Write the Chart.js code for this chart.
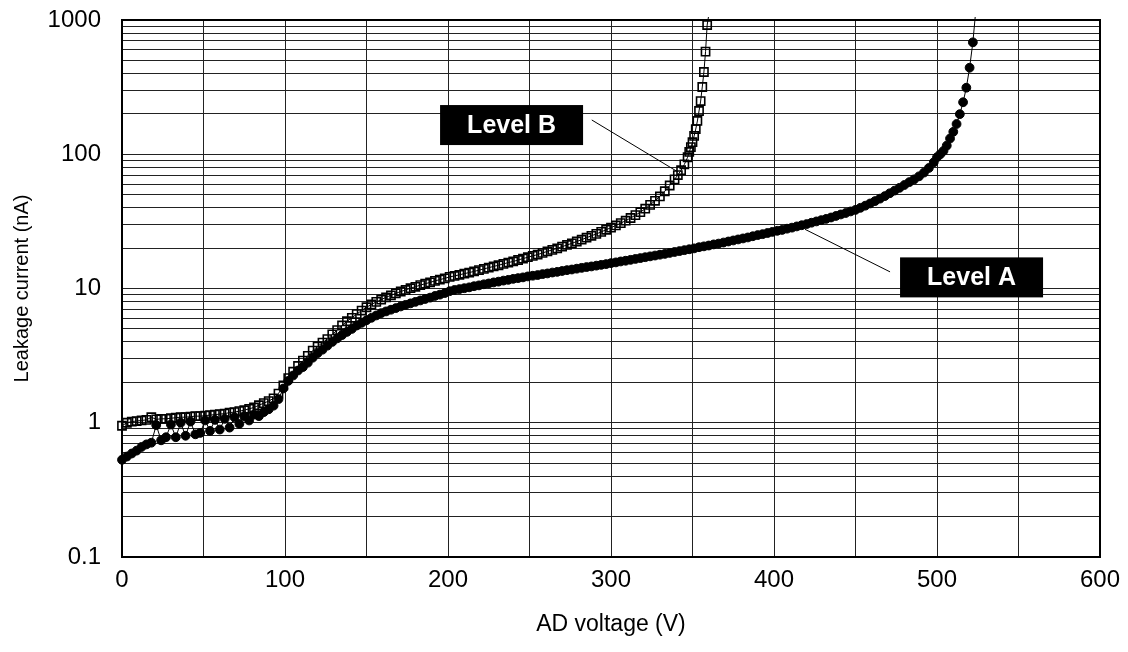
<!DOCTYPE html>
<html>
<head>
<meta charset="utf-8">
<script src="https://cdn.jsdelivr.net/npm/chart.js@4"></script>
<style>
  html, body { margin: 0; padding: 0; background: #fff; }
  #chart { display: block; }
</style>
</head>
<body>
<canvas id="chart" width="1128" height="652"></canvas>
<script>
// [voltage V, current nA]
const levelA = [
  [0,0.53],[3,0.56],[6,0.59],[9,0.62],[12,0.66],[15,0.69],[18,0.71],[21,0.96],[24,0.74],[27,0.78],
  [30,0.97],[33,0.78],[36,1.0],[39,0.8],[42,1.02],[45,0.82],[48,0.84],[51,1.04],[54,0.87],[57,1.05],
  [60,0.89],[63,1.07],[66,0.92],[69,1.1],[72,0.98],[75,1.12],[78,1.04],[81,1.15],[84,1.12],[87,1.2],
  [90,1.26],[93,1.34],[96,1.5],[99,1.8],[102,2.05],[105,2.25],[108,2.45],[111,2.6],[114,2.8],[117,3.05],
  [120,3.3],[123,3.5],[126,3.75],[129,4.0],[132,4.25],[135,4.5],[138,4.75],[141,5.0],[144,5.3],[147,5.55],
  [150,5.8],[153,6.05],[156,6.3],[159,6.55],[162,6.75],[165,6.95],[168,7.15],[171,7.35],[174,7.55],[177,7.75],
  [180,7.95],[183,8.15],[186,8.35],[189,8.55],[192,8.8],[195,9.0],[198,9.25],[201,9.55],[204,9.75],[207,9.9],
  [210,10.05],[213,10.2],[216,10.4],[219,10.55],[222,10.75],[225,10.9],[228,11.1],[231,11.25],[234,11.45],[237,11.6],
  [240,11.8],[243,11.95],[246,12.1],[249,12.3],[252,12.45],[255,12.6],[258,12.8],[261,12.95],[264,13.15],[267,13.3],
  [270,13.5],[273,13.7],[276,13.85],[279,14.05],[282,14.25],[285,14.45],[288,14.6],[291,14.8],[294,15.0],[297,15.2],
  [300,15.45],[303,15.65],[306,15.9],[309,16.1],[312,16.35],[315,16.6],[318,16.85],[321,17.1],[324,17.35],[327,17.6],
  [330,17.85],[333,18.1],[336,18.4],[339,18.7],[342,19.0],[345,19.3],[348,19.6],[351,19.9],[354,20.3],[357,20.6],
  [360,20.9],[363,21.3],[366,21.6],[369,22.0],[372,22.4],[375,22.8],[378,23.2],[381,23.6],[384,24.0],[387,24.5],
  [390,25.0],[393,25.4],[396,25.9],[399,26.4],[402,26.9],[405,27.3],[408,27.9],[411,28.4],[414,29.0],[417,29.6],
  [420,30.2],[423,30.9],[426,31.6],[429,32.3],[432,33.0],[435,33.8],[438,34.7],[441,35.6],[444,36.5],[447,37.5],
  [450,38.5],[453,39.9],[456,41.4],[459,43.0],[462,44.8],[465,46.7],[468,48.8],[471,51.2],[474,53.6],[477,56.2],
  [480,59],[483,62],[486,65],[489,68.5],[492,73],[495,79],[498,87],[500,95],[502,100],[504,106],
  [506,116],[508,131],[510,147],[512,168],[514,199],[516,244],[518,313],[520,441],[522,682],[524,1250]
];

const levelB = [
  [0,0.95],[3,1.0],[6,1.02],[9,1.03],[12,1.04],[15,1.05],[18,1.1],[21,1.06],[24,1.07],[27,1.07],
  [30,1.08],[33,1.09],[36,1.1],[39,1.1],[42,1.11],[45,1.12],[48,1.12],[51,1.13],[54,1.14],[57,1.15],
  [60,1.16],[63,1.17],[66,1.19],[69,1.2],[72,1.22],[75,1.24],[78,1.27],[81,1.3],[84,1.35],[87,1.4],
  [90,1.45],[93,1.52],[96,1.65],[99,1.9],[102,2.15],[105,2.4],[108,2.65],[111,2.9],[114,3.15],[117,3.45],
  [120,3.7],[123,3.95],[126,4.2],[129,4.55],[132,4.9],[135,5.3],[138,5.7],[141,6.05],[144,6.45],[147,6.85],
  [150,7.25],[153,7.6],[156,7.95],[159,8.25],[162,8.6],[165,8.9],[168,9.2],[171,9.5],[174,9.75],[177,10.05],
  [180,10.3],[183,10.6],[186,10.85],[189,11.1],[192,11.4],[195,11.65],[198,11.9],[201,12.2],[204,12.4],[207,12.65],
  [210,12.9],[213,13.15],[216,13.4],[219,13.7],[222,14.0],[225,14.3],[228,14.6],[231,14.9],[234,15.25],[237,15.6],
  [240,15.9],[243,16.3],[246,16.7],[249,17.1],[252,17.5],[255,17.9],[258,18.4],[261,18.9],[264,19.4],[267,19.9],
  [270,20.5],[273,21.1],[276,21.7],[279,22.4],[282,23.1],[285,23.9],[288,24.7],[291,25.5],[294,26.4],[297,27.4],
  [300,28.4],[303,29.5],[306,30.7],[309,32.0],[312,33.5],[315,35.2],[318,37.0],[321,39.3],[324,42.0],[327,45.0],
  [330,48.5],[333,53],[336,58.5],[339,65],[341,70],[343,76],[345,84],[347,95],[348,104],[349,113],
  [350,123],[351,137],[352,154],[353,177],[354,210],[355,249],[356,317],[357,410],[358,581],[359,918],
  [361,1300]
];

const xTickLabels = [0, 100, 200, 300, 400, 500, 600];
const yTickLabels = [0.1, 1, 10, 100, 1000];

// minor grid values 1..9 per decade
const yGrid = [];
yTickLabels.slice(0, -1).forEach(d => {
    for (let m = 1; m <= 9; m++) yGrid.push(Number((m * d).toPrecision(3)));
});
yGrid.push(1000);

const callouts = [
    { text: 'Level B', boxV: 239, boxI: 165, fromV: 288.2, fromI: 180, toV: 341.1, toI: 73.8 },
    { text: 'Level A', boxV: 521.2, boxI: 12.1, fromV: 471.2, fromI: 13.3, toV: 419, toI: 27.6 }
];

const calloutPlugin = {
    id: 'callouts',
    afterDatasetsDraw(chart) {
        const { ctx, scales: { x, y } } = chart;
        ctx.save();
        callouts.forEach(c => {
            ctx.strokeStyle = '#000';
            ctx.lineWidth = 1;
            ctx.beginPath();
            ctx.moveTo(x.getPixelForValue(c.fromV), y.getPixelForValue(c.fromI));
            ctx.lineTo(x.getPixelForValue(c.toV), y.getPixelForValue(c.toI));
            ctx.stroke();
            const cx = x.getPixelForValue(c.boxV);
            const cy = y.getPixelForValue(c.boxI);
            ctx.fillStyle = '#000';
            ctx.fillRect(cx - 71.5, cy - 20, 143, 40);
            ctx.fillStyle = '#fff';
            ctx.font = 'bold 25px "Liberation Sans", Arial, sans-serif';
            ctx.textAlign = 'center';
            ctx.textBaseline = 'middle';
            ctx.fillText(c.text, cx, cy + 1);
        });
        ctx.restore();
    },
    afterDraw(chart) {
        const { ctx, chartArea: a } = chart;
        ctx.save();
        ctx.strokeStyle = '#000';
        ctx.lineWidth = 2;
        ctx.strokeRect(a.left, a.top, a.right - a.left, a.bottom - a.top);
        ctx.restore();
    }
};

Chart.defaults.font.family = '"Liberation Sans", Arial, sans-serif';
Chart.defaults.color = '#000';

new Chart(document.getElementById('chart').getContext('2d'), {
    type: 'line',
    data: {
        datasets: [
            {
                label: 'Level A',
                data: levelA.map(([v, i]) => ({ x: v, y: i })),
                borderColor: '#000',
                borderWidth: 1,
                pointStyle: 'circle',
                pointRadius: 4.4,
                pointBackgroundColor: '#000',
                pointBorderColor: '#000',
                pointBorderWidth: 1,
                clip: { left: 6, right: 6, top: 3, bottom: 6 }
            },
            {
                label: 'Level B',
                data: levelB.map(([v, i]) => ({ x: v, y: i })),
                borderColor: '#000',
                borderWidth: 1,
                pointStyle: 'rect',
                pointRadius: 5.8,
                pointBackgroundColor: 'rgba(255,255,255,0)',
                pointBorderColor: '#000',
                pointBorderWidth: 1.6,
                clip: { left: 6, right: 6, top: 3, bottom: 6 }
            }
        ]
    },
    options: {
        responsive: false,
        animation: false,
        devicePixelRatio: 1,
        layout: { padding: { top: 20, right: 28, left: 0, bottom: 0 } },
        plugins: { legend: { display: false }, tooltip: { enabled: false } },
        scales: {
            x: {
                type: 'linear',
                min: 0,
                max: 600,
                afterFit: s => { s.height = 95; s.paddingLeft = 0; s.paddingRight = 0; },
                grid: { color: '#222', lineWidth: 1, drawTicks: false },
                border: { display: false },
                ticks: {
                    stepSize: 50,
                    autoSkip: false,
                    maxRotation: 0,
                    padding: 9,
                    font: { size: 24 },
                    callback: v => xTickLabels.includes(v) ? String(v) : ''
                },
                title: {
                    display: true,
                    text: 'AD voltage (V)',
                    font: { size: 23 },
                    padding: { top: 0, bottom: 14 }
                }
            },
            y: {
                type: 'logarithmic',
                min: 0.1,
                max: 1000,
                afterFit: s => { s.width = 122; s.paddingTop = 0; s.paddingBottom = 0; },
                afterBuildTicks: s => { s.ticks = yGrid.map(v => ({ value: v })); },
                grid: { color: '#222', lineWidth: 1, drawTicks: false },
                border: { display: false },
                ticks: {
                    autoSkip: false,
                    padding: 21,
                    font: { size: 24 },
                    callback: v => yTickLabels.includes(v) ? String(v) : ''
                },
                title: {
                    display: true,
                    text: 'Leakage current (nA)',
                    font: { size: 20 },
                    padding: { top: 10, bottom: 0 }
                }
            }
        }
    },
    plugins: [calloutPlugin]
});
</script>
</body>
</html>
